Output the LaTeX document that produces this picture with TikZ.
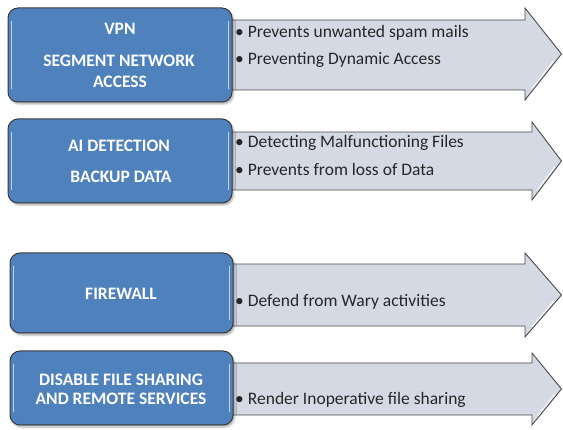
\documentclass[tikz,border=0pt]{standalone}
\usepackage{fontspec}
\setmainfont{Carlito}
\usetikzlibrary{shadows.blur}

\definecolor{secblue}{HTML}{4F81BD}
\definecolor{secedge}{HTML}{3A3A3A}
\definecolor{arrowfill}{HTML}{D4D9E4}
\definecolor{arrowedge}{HTML}{4A4A4A}
\definecolor{glint}{HTML}{BCD2EE}
\definecolor{notecolor}{HTML}{262626}

\tikzset{
  secbox/.style={draw=secedge, line width=1pt, fill=secblue, rounded corners=10pt,
    inner sep=0pt,
    blur shadow={shadow xshift=1.5pt, shadow yshift=-2pt, shadow blur steps=4, shadow opacity=35}},
  glintline/.style={draw=glint, line width=1.3pt, line cap=round},
  boxtext/.style={text=white, font=\fontsize{17.5}{20}\selectfont\bfseries, anchor=base, inner sep=0pt},
  notetext/.style={text=notecolor, font=\fontsize{17.5}{20}\selectfont, anchor=base west, inner sep=0pt},
  arrowbody/.style={draw=arrowedge, line width=0.9pt, fill=arrowfill, line join=miter},
  headglint/.style={draw=white, line width=1.2pt, opacity=0.8, line cap=round},
}

% #1 start x, #2 body top, #3 body bottom, #4 head top, #5 head bottom, #6 head base x
\newcommand\noteArrow[6]{%
  \draw[arrowbody] (#1,#2) -- (#6,#2) -- (#6,#4) -- (561.5,{(#4+#5)/2})
    -- (#6,#5) -- (#6,#3) -- (#1,#3) -- cycle;
  \draw[headglint] ($(561.5,{(#4+#5)/2})!0.15!(#6,#5)+(-2.5,0)$) -- ($(561.5,{(#4+#5)/2})!0.75!(#6,#5)+(-2,0)$);
}
\usetikzlibrary{calc}

% vertical highlights inside a section box
\newcommand\boxGlints[1]{%
  \draw[glintline] ([xshift=4pt,yshift=-14pt]#1.north west) -- ([xshift=4pt,yshift=14pt]#1.south west);
  \draw[glintline] ([xshift=-4pt,yshift=-14pt]#1.north east) -- ([xshift=-4pt,yshift=14pt]#1.south east);
}

\begin{document}
\begin{tikzpicture}[x=1pt,y=-1pt]
  \useasboundingbox (0,0) rectangle (563,430);

  % ---- arrows carrying the notes ----
  \noteArrow{220}{20}{90}{8}{100}{525}
  \noteArrow{220}{132}{190}{122}{200}{532}
  \noteArrow{220}{264}{326}{253}{337}{525}
  \noteArrow{220}{363}{415}{353}{425}{532}

  % ---- section boxes ----
  \node[secbox, minimum width=224pt, minimum height=94pt] (vpn) at (120,55) {};
  \node[secbox, minimum width=224pt, minimum height=84pt] (ai) at (120,161) {};
  \node[secbox, minimum width=223pt, minimum height=80pt] (fw) at (121.5,293) {};
  \node[secbox, minimum width=223pt, minimum height=74pt] (share) at (121.5,388) {};
  \boxGlints{vpn}
  \boxGlints{ai}
  \boxGlints{fw}
  \boxGlints{share}

  % ---- box titles ----
  \node[boxtext] (vpnA) at (120,35) {VPN};
  \node[boxtext] (vpnB) at (119,67) {SEGMENT NETWORK};
  \node[boxtext] (vpnC) at (120,88) {ACCESS};
  \node[boxtext] (aiA) at (119,152) {AI DETECTION};
  \node[boxtext] (aiB) at (121,183) {BACKUP DATA};
  \node[boxtext] (fwA) at (121,300) {FIREWALL};
  \node[boxtext] (shareA) at (121,386) {DISABLE FILE SHARING};
  \node[boxtext] (shareB) at (121,405) {AND REMOTE SERVICES};

  % ---- notes ----
  \node[notetext] (vpnN1) at (235,38) {•\hspace{4pt}Prevents unwanted spam mails};
  \node[notetext] (vpnN2) at (235,65) {•\hspace{4pt}Preventing Dynamic Access};
  \node[notetext] (aiN1) at (235,148) {•\hspace{4pt}Detecting Malfunctioning Files};
  \node[notetext] (aiN2) at (235,176) {•\hspace{4pt}Prevents from loss of Data};
  \node[notetext] (fwN1) at (235,307) {•\hspace{4pt}Defend from Wary activities};
  \node[notetext] (shareN1) at (235,405) {•\hspace{4pt}Render Inoperative file sharing};
\end{tikzpicture}
\end{document}
